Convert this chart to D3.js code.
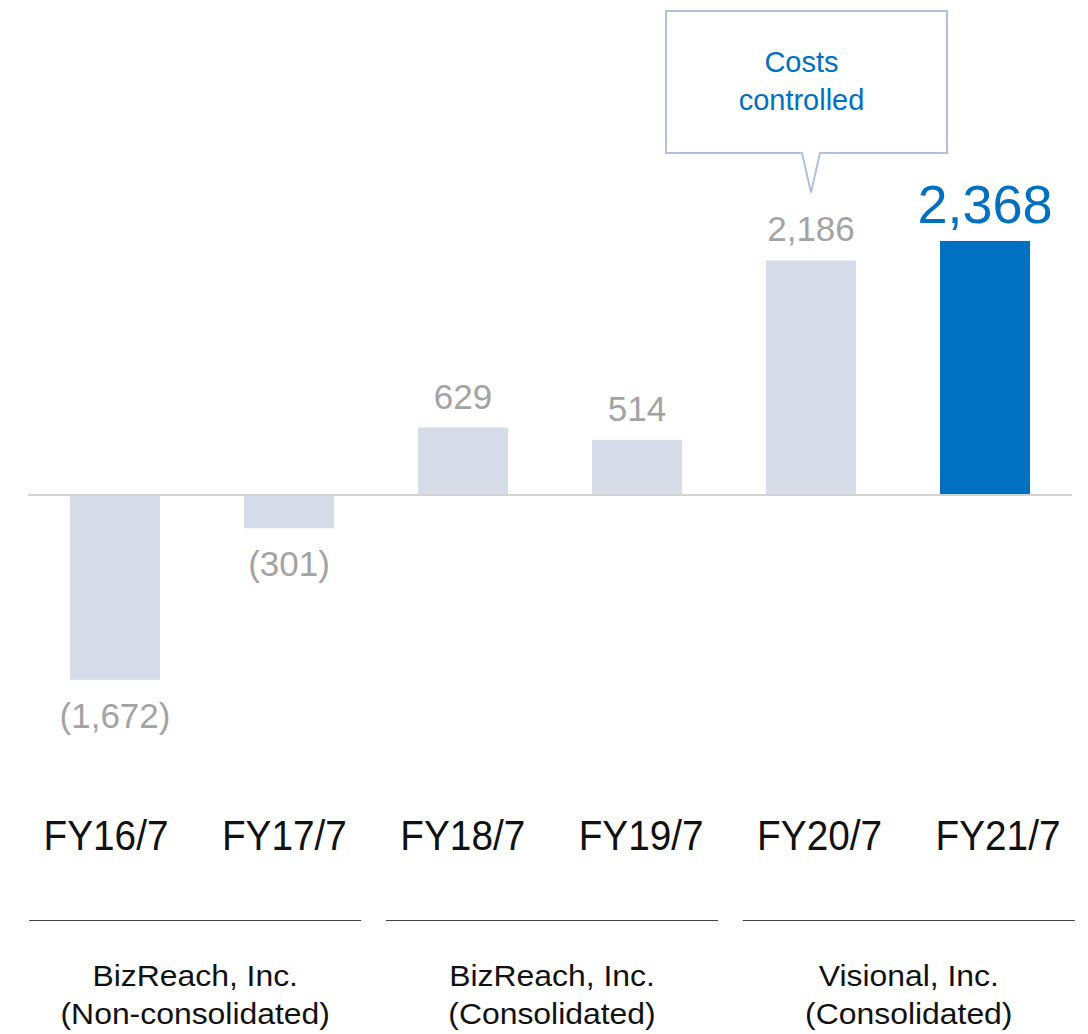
<!DOCTYPE html>
<html>
<head>
<meta charset="utf-8">
<script src="https://cdn.jsdelivr.net/npm/d3@7"></script>
<style>
  body { margin: 0; background: #fff; }
  text { font-family: "Liberation Sans", Arial, Helvetica, sans-serif; }
</style>
</head>
<body>
<script>
// operating profit (million yen)
var categories = ["FY16/7", "FY17/7", "FY18/7", "FY19/7", "FY20/7", "FY21/7"];
var values = [-1672, -301, 629, 514, 2186, 2368];
var valueLabels = ["(1,672)", "(301)", "629", "514", "2,186", "2,368"];
var groupNames = ["BizReach, Inc.", "BizReach, Inc.", "Visional, Inc."];
var groupSubs = ["(Non-consolidated)", "(Consolidated)", "(Consolidated)"];
var groupMembers = [["FY16/7", "FY17/7"], ["FY18/7", "FY19/7"], ["FY20/7", "FY21/7"]];
var calloutLines = ["Costs", "controlled"];

var width = 1088, height = 1034;
var grey = "#d6dbe8", blue = "#0070c0";

var svg = d3.select("body").append("svg")
    .attr("width", width)
    .attr("height", height);

var x = d3.scaleBand()
    .domain(categories)
    .range([28, 1072])
    .paddingInner(0.483)
    .paddingOuter(0.2415);

// the year labels under the chart sit on a slightly wider spacing
var xLabel = d3.scalePoint()
    .domain(categories)
    .range([106, 998]);

// negative side drawn a bit taller in the original
var y = d3.scaleLinear()
    .domain([-1700, 0, 2400])
    .range([683, 495, 237.5]);

var last = categories.length - 1;

// bars
svg.append("g").selectAll("rect")
    .data(values).enter()
    .append("rect")
    .attr("x", function(d, i) { return x(categories[i]); })
    .attr("width", x.bandwidth())
    .attr("y", function(d) { return Math.min(y(d), y(0)); })
    .attr("height", function(d) { return Math.abs(y(d) - y(0)); })
    .attr("fill", function(d, i) { return i == last ? blue : grey; });

// zero line
svg.append("line")
    .attr("x1", x.range()[0]).attr("x2", x.range()[1])
    .attr("y1", y(0)).attr("y2", y(0))
    .attr("stroke", "#d3d3d3")
    .attr("stroke-width", 2);

// value labels
svg.append("g").selectAll("text")
    .data(values).enter()
    .append("text")
    .attr("text-anchor", "middle")
    .attr("x", function(d, i) { return x(categories[i]) + x.bandwidth() / 2; })
    .attr("y", function(d, i) {
        if (d < 0) return y(d) + 48;
        return i == last ? y(d) - 18 : y(d) - 19;
    })
    .attr("font-size", function(d, i) { return i == last ? 54 : 35; })
    .attr("fill", function(d, i) { return i == last ? blue : "#a3a3a3"; })
    .text(function(d, i) { return valueLabels[i]; });

// category labels
svg.append("g").selectAll("text")
    .data(categories).enter()
    .append("text")
    .attr("text-anchor", "middle")
    .attr("x", function(d) { return xLabel(d); })
    .attr("y", 850)
    .attr("font-size", 42)
    .attr("fill", "#111")
    .attr("textLength", 125)
    .attr("lengthAdjust", "spacingAndGlyphs")
    .text(function(d) { return d; });

// company groups
groupMembers.forEach(function(g, i) {
    var c = (xLabel(g[0]) + xLabel(g[1])) / 2;
    svg.append("line")
        .attr("x1", c - 166).attr("x2", c + 166)
        .attr("y1", 920.5).attr("y2", 920.5)
        .attr("stroke", "#444")
        .attr("stroke-width", 1);
    svg.append("text")
        .attr("text-anchor", "middle")
        .attr("transform", "translate(" + c + ",986) scale(1.1,1)")
        .attr("font-size", 29)
        .attr("fill", "#111")
        .text(groupNames[i]);
    svg.append("text")
        .attr("text-anchor", "middle")
        .attr("transform", "translate(" + c + ",1024) scale(1.1,1)")
        .attr("font-size", 29)
        .attr("fill", "#111")
        .text(groupSubs[i]);
});

// callout pointing at FY20/7
var tipX = x("FY20/7") + x.bandwidth() / 2;
var tipY = y(2186) - 68;
var bx0 = 666, bx1 = 947, by0 = 11, by1 = 153;
svg.append("path")
    .attr("d", "M" + bx0 + "," + by0 + "H" + bx1 + "V" + by1 +
        "H" + (tipX + 9) + "L" + tipX + "," + tipY + "L" + (tipX - 9) + "," + by1 +
        "H" + bx0 + "Z")
    .attr("fill", "#fff")
    .attr("stroke", "#b3c0db")
    .attr("stroke-width", 2);

svg.append("g").selectAll("text")
    .data(calloutLines).enter()
    .append("text")
    .attr("text-anchor", "middle")
    .attr("x", (bx0 + bx1) / 2 - 5)
    .attr("y", function(d, i) { return 72 + i * 38; })
    .attr("font-size", 29)
    .attr("fill", blue)
    .text(function(d) { return d; });
</script>
</body>
</html>
